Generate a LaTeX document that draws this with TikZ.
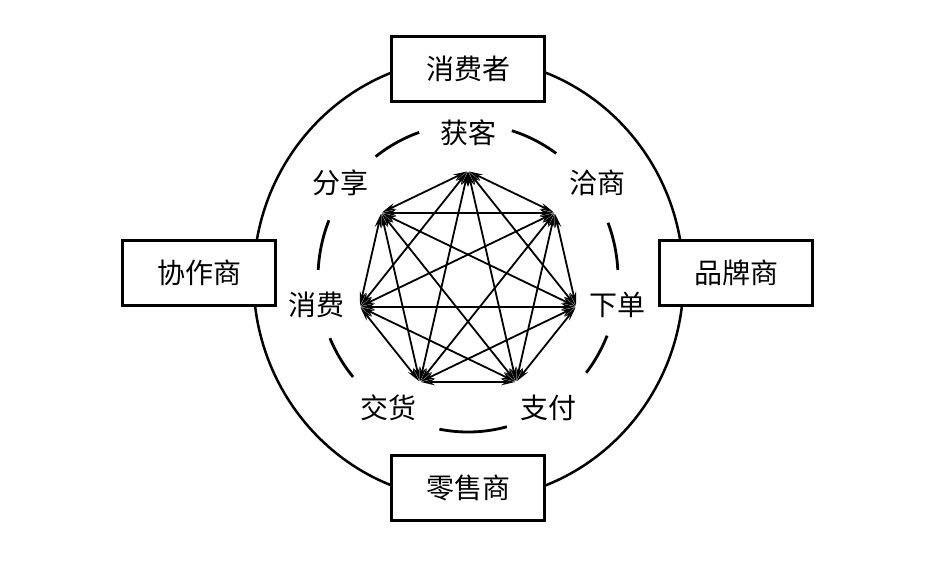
\documentclass[tikz,border=0pt]{standalone}
\usepackage{fontspec}
\newfontfamily\cjk{Noto Sans CJK SC}
\usetikzlibrary{arrows.meta}
\begin{document}
\begin{tikzpicture}[x=1pt,y=-1pt,
  boxnode/.style={draw,line width=3pt,fill=white,minimum width=153pt,minimum height=65pt,inner sep=0pt,font=\cjk\fontsize{28}{30}\selectfont},
  lbl/.style={font=\cjk\fontsize{28}{30}\selectfont,inner sep=0pt},
  link/.style={line width=1.8pt,{Stealth[length=14pt,width=6.5pt]}-{Stealth[length=14pt,width=6.5pt]},shorten <=1pt,shorten >=1pt},
  dasharc/.style={line width=2.8pt}]
\useasboundingbox (0,0) rectangle (930,562);
% outer circle
\draw[line width=2.5pt] (468.5,279) ellipse [x radius=215, y radius=221];
% inner dashed circle segments
\foreach \a/\b in {109/128, 54/73, 3/21, -38/-22, -101/-75, -157/-140, 158/177}
  \draw[dasharc] ({468+150*cos(\a)},{278-154*sin(\a)}) arc[start angle=\a, end angle=\b, x radius=150, y radius=-154];
% boxes
\node[boxnode] (c) at (468,69) {消费者};
\node[boxnode] (r) at (468,488) {零售商};
\node[boxnode] (p) at (199,273) {协作商};
\node[boxnode] (b) at (736,273) {品牌商};
% vertices
\foreach \n/\ang in {v1/90, v2/38.57, v3/-12.86, v4/-64.29, v5/-115.71, v6/-167.14, v7/141.43}
  \coordinate (\n) at ({468+111*cos(\ang)},{282-111*sin(\ang)});
% labels
\node[lbl] (l1) at (468,133) {获客};
\node[lbl] (l2) at (597,183) {洽商};
\node[lbl] (l3) at (617,305) {下单};
\node[lbl] (l4) at (548,408) {支付};
\node[lbl] (l5) at (388,408) {交货};
\node[lbl] (l6) at (316,305) {消费};
\node[lbl] (l7) at (340,183) {分享};
% links
\foreach \i/\j in {v1/v2,v1/v3,v1/v4,v1/v5,v1/v6,v1/v7,
                   v2/v3,v2/v4,v2/v5,v2/v6,v2/v7,
                   v3/v4,v3/v5,v3/v6,v3/v7,
                   v4/v5,v4/v6,v4/v7,
                   v5/v6,v5/v7,
                   v6/v7}
  \draw[link] (\i) -- (\j);
\end{tikzpicture}
\end{document}
